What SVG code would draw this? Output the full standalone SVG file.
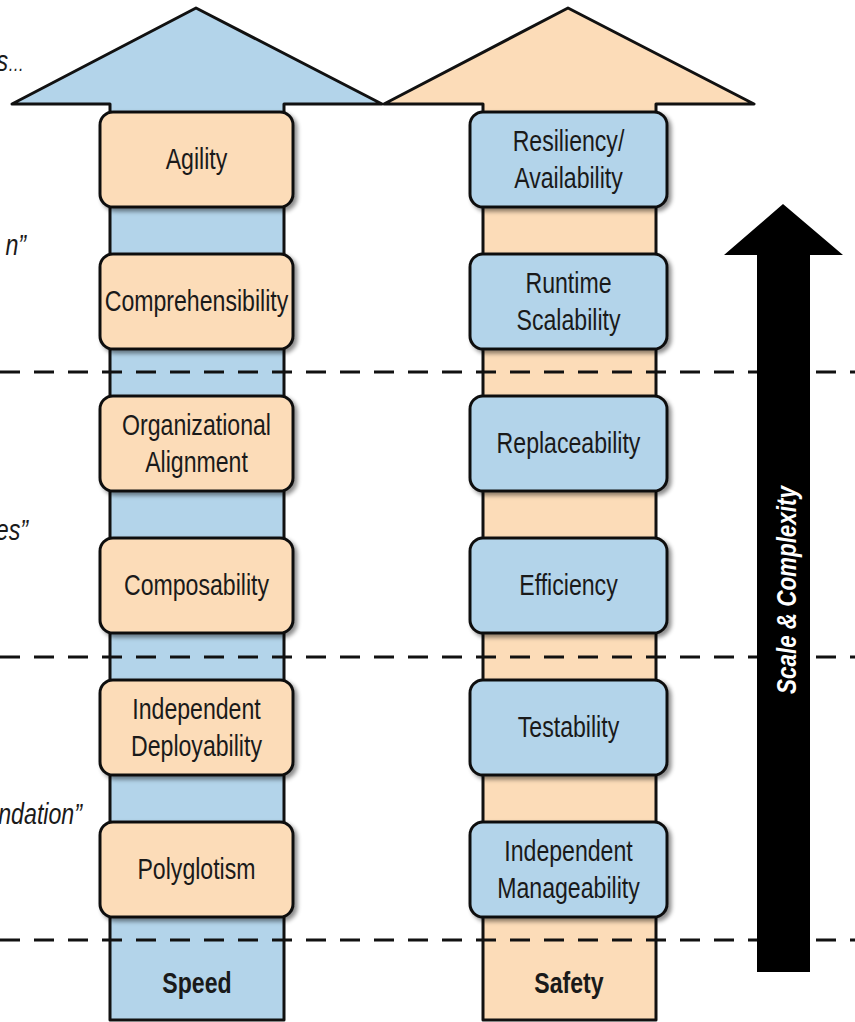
<svg xmlns="http://www.w3.org/2000/svg" width="855" height="1022" viewBox="0 0 855 1022">
  <defs>
    <filter id="sh" x="-10%" y="-10%" width="125%" height="130%">
      <feDropShadow dx="3" dy="3" stdDeviation="2" flood-color="#000" flood-opacity="0.45"/>
    </filter>
  </defs>
  <style>
    .blue { fill: #b3d4ea; }
    .peach { fill: #fcdcb8; }
    .outline { stroke: #111; stroke-width: 3; stroke-linejoin: round; }
    .box { stroke: #111; stroke-width: 3; filter: url(#sh); }
    .lbl { font-family: "Liberation Sans", Arial, sans-serif; font-size: 30px; fill: #1a1a1a; text-anchor: middle; }
    .bold { font-weight: bold; }
    .frag { font-family: "Liberation Sans", Arial, sans-serif; font-size: 29px; font-style: italic; fill: #1a1a1a; text-anchor: end; }
    .dash { stroke: #111; stroke-width: 3; stroke-dasharray: 20 14; fill: none; }
  </style>
  <rect width="855" height="1022" fill="#fff"/>

  <g id="speed-arrow">
    <path class="blue outline" d="M110 1020 L110 104 L12 104 L196 8 L382 104 L284 104 L284 1020 Z"/>
  </g>
  <g id="safety-arrow">
    <path class="peach outline" d="M483 1020 L483 104 L384 104 L568 8 L754 104 L656 104 L656 1020 Z"/>
  </g>

  <g id="dividers">
    <line class="dash" x1="0" y1="372" x2="855" y2="372"/>
    <line class="dash" x1="0" y1="657" x2="855" y2="657"/>
    <line class="dash" x1="0" y1="940" x2="855" y2="940"/>
  </g>

  <g id="scale-arrow">
    <path fill="#000" d="M757 972 L757 255 L724 255 L783 204 L843 255 L810 255 L810 972 Z"/>
    <text transform="translate(796,590) rotate(-90) scale(0.8,1)" font-family="Liberation Sans, Arial, sans-serif" font-size="28" font-style="italic" font-weight="bold" fill="#fff" text-anchor="middle">Scale &amp; Complexity</text>
  </g>

  <g id="fragments">
    <text class="frag" transform="translate(24,71) scale(0.8,1)">s<tspan font-size="20">…</tspan></text>
    <text class="frag" transform="translate(26,255) scale(0.8,1)">n”</text>
    <text class="frag" transform="translate(28,540) scale(0.8,1)">es”</text>
    <text class="frag" transform="translate(82,824) scale(0.8,1)">ndation”</text>
  </g>

  <!-- Speed column boxes -->
  <g id="agility">
    <rect class="box peach" x="100" y="112" width="193" height="95" rx="13"/>
    <text class="lbl" transform="translate(196.5,169) scale(0.77,1)">Agility</text>
  </g>
  <g id="comprehensibility">
    <rect class="box peach" x="100" y="254" width="193" height="95" rx="13"/>
    <text class="lbl" transform="translate(196.5,311) scale(0.77,1)">Comprehensibility</text>
  </g>
  <g id="organizational-alignment">
    <rect class="box peach" x="100" y="396" width="193" height="95" rx="13"/>
    <text class="lbl" transform="translate(196.5,435) scale(0.77,1)">Organizational</text>
    <text class="lbl" transform="translate(196.5,472) scale(0.77,1)">Alignment</text>
  </g>
  <g id="composability">
    <rect class="box peach" x="100" y="538" width="193" height="95" rx="13"/>
    <text class="lbl" transform="translate(196.5,595) scale(0.77,1)">Composability</text>
  </g>
  <g id="independent-deployability">
    <rect class="box peach" x="100" y="680" width="193" height="95" rx="13"/>
    <text class="lbl" transform="translate(196.5,719) scale(0.77,1)">Independent</text>
    <text class="lbl" transform="translate(196.5,756) scale(0.77,1)">Deployability</text>
  </g>
  <g id="polyglotism">
    <rect class="box peach" x="100" y="822" width="193" height="95" rx="13"/>
    <text class="lbl" transform="translate(196.5,879) scale(0.77,1)">Polyglotism</text>
  </g>

  <!-- Safety column boxes -->
  <g id="resiliency">
    <rect class="box blue" x="470" y="112" width="197" height="95" rx="13"/>
    <text class="lbl" transform="translate(568.5,151) scale(0.77,1)">Resiliency/</text>
    <text class="lbl" transform="translate(568.5,188) scale(0.77,1)">Availability</text>
  </g>
  <g id="runtime-scalability">
    <rect class="box blue" x="470" y="254" width="197" height="95" rx="13"/>
    <text class="lbl" transform="translate(568.5,293) scale(0.77,1)">Runtime</text>
    <text class="lbl" transform="translate(568.5,330) scale(0.77,1)">Scalability</text>
  </g>
  <g id="replaceability">
    <rect class="box blue" x="470" y="396" width="197" height="95" rx="13"/>
    <text class="lbl" transform="translate(568.5,453) scale(0.77,1)">Replaceability</text>
  </g>
  <g id="efficiency">
    <rect class="box blue" x="470" y="538" width="197" height="95" rx="13"/>
    <text class="lbl" transform="translate(568.5,595) scale(0.77,1)">Efficiency</text>
  </g>
  <g id="testability">
    <rect class="box blue" x="470" y="680" width="197" height="95" rx="13"/>
    <text class="lbl" transform="translate(568.5,737) scale(0.77,1)">Testability</text>
  </g>
  <g id="independent-manageability">
    <rect class="box blue" x="470" y="822" width="197" height="95" rx="13"/>
    <text class="lbl" transform="translate(568.5,861) scale(0.77,1)">Independent</text>
    <text class="lbl" transform="translate(568.5,898) scale(0.77,1)">Manageability</text>
  </g>

  <g id="speed-label">
    <text class="lbl bold" transform="translate(197,993) scale(0.77,1)">Speed</text>
  </g>
  <g id="safety-label">
    <text class="lbl bold" transform="translate(569,993) scale(0.77,1)">Safety</text>
  </g>
</svg>
